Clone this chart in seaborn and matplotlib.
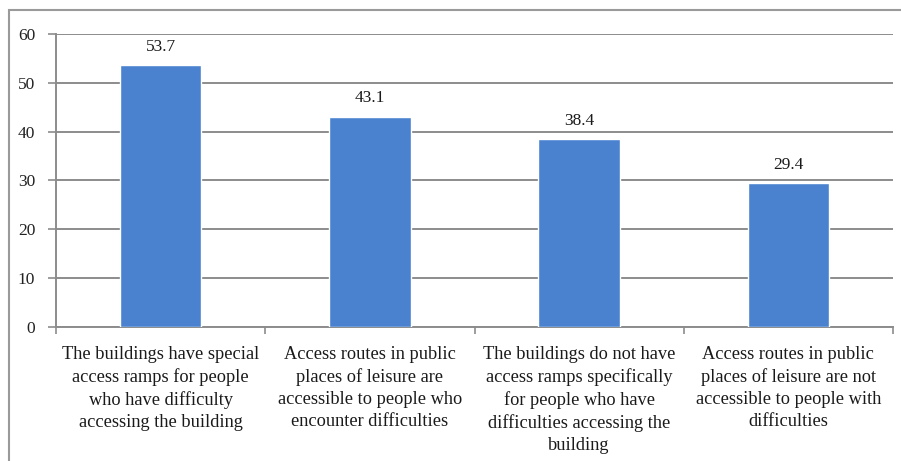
import matplotlib
matplotlib.use("Agg")
import matplotlib.pyplot as plt
import seaborn as sns
import pandas as pd
from matplotlib.patches import Rectangle

categories = [
    "The buildings have special\naccess ramps for people\nwho have difficulty\naccessing the building",
    "Access routes in public\nplaces of leisure are\naccessible to people who\nencounter difficulties",
    "The buildings do not have\naccess ramps specifically\nfor people who have\ndifficulties accessing the\nbuilding",
    "Access routes in public\nplaces of leisure are not\naccessible to people with\ndifficulties",
]
values = [53.7, 43.1, 38.4, 29.4]
y_ticks = [0, 10, 20, 30, 40, 50, 60]

sns.set_theme(style="white")
plt.rcParams["font.family"] = ["Liberation Serif", "DejaVu Serif"]

df = pd.DataFrame({"category": categories, "value": values})

fig = plt.figure(figsize=(9.01, 4.61), dpi=100)
ax = fig.add_axes([56 / 901, 1 - 327 / 461, (893 - 56) / 901, (327 - 34) / 461])

sns.barplot(data=df, x="category", y="value", color="#4A82CF", width=0.39,
            saturation=1, ax=ax, zorder=3)

ax.set_ylim(0, 60)
ax.set_xlim(-0.5, len(categories) - 0.5)
ax.set_yticks(y_ticks)
ax.set_yticklabels([str(t) for t in y_ticks], fontsize=12.5, color="#222222")
ax.yaxis.grid(True, color="#8c8c8c", linewidth=1.4, zorder=0)
ax.set_axisbelow(True)
ax.set_xlabel("")
ax.set_ylabel("")

for side in ["top", "right"]:
    ax.spines[side].set_visible(False)
for side in ["left", "bottom"]:
    ax.spines[side].set_color("#8c8c8c")
    ax.spines[side].set_linewidth(1.4)

ax.tick_params(axis="y", length=6, width=1.2, color="#8c8c8c", pad=9, left=True)
ax.set_xticks(range(len(categories)))
ax.set_xticklabels(categories, fontsize=13.2, color="#1a1a1a", linespacing=1.36,
                   va="top")
ax.tick_params(axis="x", length=0, pad=14)
# category boundary ticks
ax.set_xticks([i + 0.5 for i in range(-1, len(categories))], minor=True)
ax.tick_params(axis="x", which="minor", length=5, width=1.2, color="#8c8c8c", bottom=True)

for i, v in enumerate(values):
    ax.text(i, v + 3.7, f"{v:.1f}", ha="center", va="center", fontsize=12.5, color="#1a1a1a")

# outer chart frame
fig.patches.append(Rectangle((9 / 901, -0.05), 0.995, 1 - 10 / 461 + 0.05,
                             transform=fig.transFigure, fill=False,
                             edgecolor="#9a9a9a", linewidth=1.5))

fig.savefig("out.png", dpi=100)
